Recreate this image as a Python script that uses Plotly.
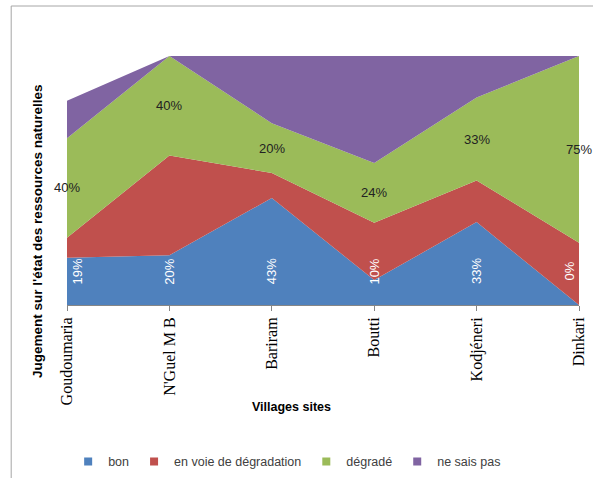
import plotly.graph_objects as go

villages = ["Goudoumaria", "N'Guel M B", "Bariram", "Boutti", "Kodjéneri", "Dinkari"]
bon = [19, 20, 43, 10, 33.3, 0]
en_voie = [8, 40, 10, 23, 16.7, 25]
degrade = [40, 40, 20, 24, 33.3, 75]
ne_sais_pas = [15, 0, 27, 43, 16.7, 0]

series = [
    ("bon", bon, "#4F81BD"),
    ("en voie de dégradation", en_voie, "#C0504D"),
    ("dégradé", degrade, "#9BBB59"),
    ("ne sais pas", ne_sais_pas, "#8064A2"),
]

fig = go.Figure()
for name, vals, color in series:
    fig.add_trace(go.Scatter(
        x=villages, y=vals, name=name, mode="lines",
        stackgroup="one", line=dict(width=0, color=color),
        fillcolor=color, hoverinfo="skip", showlegend=False,
    ))
# small square keys for the legend, like the original
for name, vals, color in series:
    fig.add_trace(go.Scatter(
        x=[None], y=[None], name=name, mode="markers",
        marker=dict(symbol="square", size=8, color=color),
    ))

annotations = []
# white rotated labels for "bon", placed near the bottom of the area
for i, (v, b) in enumerate(zip(villages, bon)):
    shift = 10 if i == 0 else (-10 if i == len(villages) - 1 else 0)
    annotations.append(dict(
        x=v, y=13.5, text=f"{round(b)}%", showarrow=False, textangle=-90,
        xshift=shift, font=dict(family="Liberation Sans", size=13, color="white"),
    ))
# dark labels for "dégradé", centred in the green band
for v, b, r, d in zip(villages, bon, en_voie, degrade):
    annotations.append(dict(
        x=v, y=b + r + d / 2, text=f"{round(d)}%", showarrow=False,
        font=dict(family="Liberation Sans", size=13, color="#222222"),
    ))
annotations.append(dict(
    xref="paper", yref="paper", x=-0.0586, y=0.297,
    xanchor="center", yanchor="middle",
    text="<b>Jugement sur l'état des ressources naturelles</b>",
    textangle=-90, showarrow=False,
    font=dict(family="Liberation Sans", size=13.5, color="black"),
))
annotations.append(dict(
    xref="paper", yref="paper", x=0.439, y=-0.41,
    xanchor="center", yanchor="middle",
    text="<b>Villages sites</b>", showarrow=False,
    font=dict(family="Liberation Sans", size=12.5, color="black"),
))

fig.update_layout(
    width=593, height=478,
    margin=dict(l=67, r=14, t=56, b=173, autoexpand=False),
    paper_bgcolor="white", plot_bgcolor="white",
    showlegend=True,
    legend=dict(
        orientation="h", x=0.43, xanchor="center", y=-0.63, yanchor="middle",
        font=dict(family="Liberation Sans", size=12.5, color="#404040"),
        traceorder="normal", itemwidth=30, tracegroupgap=0,
    ),
    annotations=annotations,
    shapes=[
        dict(type="line", xref="paper", yref="paper", x0=-0.109, x1=-0.109,
             y0=1.2008, y1=-0.8, line=dict(color="#A6A6A6", width=1)),
        dict(type="line", xref="paper", yref="paper", x0=-0.109, x1=1.03,
             y0=1.2008, y1=1.2008, line=dict(color="#A6A6A6", width=1)),
    ],
)
fig.update_xaxes(
    type="category", range=[0, 5], showline=True, linecolor="#868686",
    ticks="outside", ticklen=5, tickcolor="#868686", tickangle=-90,
    tickfont=dict(family="Liberation Serif", size=16, color="black"),
    showgrid=False, zeroline=False, automargin=False,
)
fig.update_yaxes(range=[0, 100], visible=False, showgrid=False)

# drop the browser's default body margin so the figure fills the window
fig.write_html("out.html", config={"displayModeBar": False},
               post_script="document.body.style.margin='0';")
